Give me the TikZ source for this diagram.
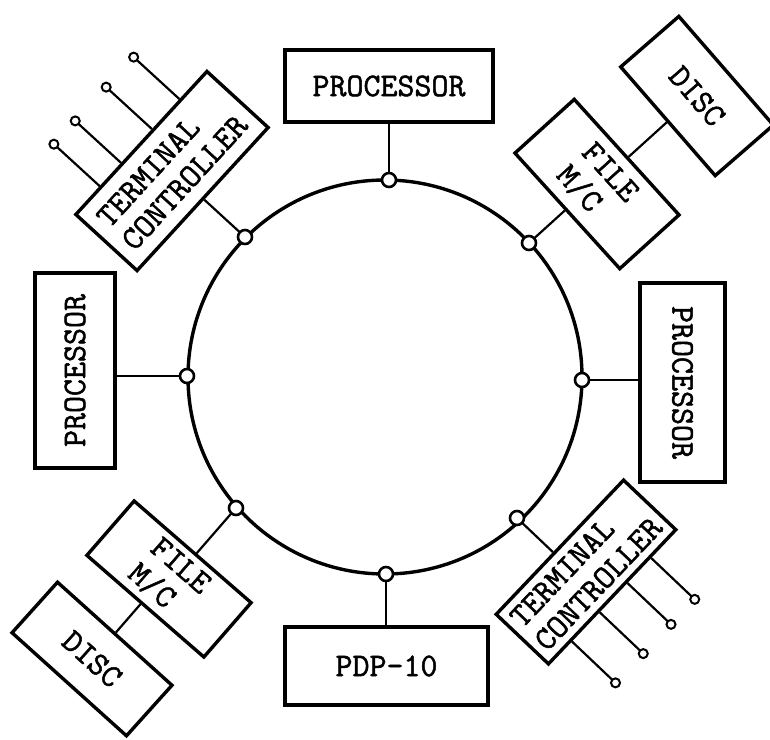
\documentclass[tikz,border=0pt]{standalone}
\usepackage{fontspec}
\newfontfamily\tw{Latin Modern Mono}[FakeBold=1.5]
\usetikzlibrary{calc}
\begin{document}
\begin{tikzpicture}[x=1pt,y=-1pt,
  box/.style={draw,line width=3.4pt,inner sep=0pt,font=\tw\fontsize{33}{34}\selectfont,align=center},
  tap/.style={circle,draw,line width=2.6pt,fill=white,minimum size=14pt,inner sep=0pt},
  link/.style={line width=2.2pt},
  term/.style={circle,draw,line width=2pt,fill=white,minimum size=9pt,inner sep=0pt},
  ringstyle/.style={circle,draw,line width=3.4pt,minimum size=394pt,inner sep=0pt}
]
\useasboundingbox (0,0) rectangle (770,739);
% ring
\node[ringstyle] (ring) at (385,377) {};
% boxes
\node[box,minimum width=208pt,minimum height=72pt] (pT) at (389,86) {PROCESSOR};
\node[box,minimum width=195pt,minimum height=80pt,rotate=90] (pL) at (75,370.5) {PROCESSOR};
\node[box,minimum width=199pt,minimum height=85pt,rotate=-90] (pR) at (682.5,382.5) {PROCESSOR};
\node[box,minimum width=203pt,minimum height=78pt] (pdp) at (386.5,666) {PDP-10};
\node[box,minimum width=194pt,minimum height=83pt,rotate=47.5,align=left] (tcUL) at (172,171) {TERMINAL\\CONTROLLER};
\node[box,minimum width=185pt,minimum height=72pt,rotate=46.5,align=left] (tcLR) at (586,572) {TERMINAL\\CONTROLLER};
\node[box,minimum width=156pt,minimum height=80pt,rotate=-47.8,align=left] (fileUR) at (597,184) {FILE\\M/C};
\node[box,minimum width=144pt,minimum height=77pt,rotate=-49] (discUR) at (697,96) {DISC};
\node[box,minimum width=155pt,minimum height=72pt,rotate=-41,align=left] (fileLL) at (169,579) {FILE\\M/C};
\node[box,minimum width=154pt,minimum height=68pt,rotate=-42] (discLL) at (92,659) {DISC};
% tap positions on the ring
\coordinate (cT) at (389,180);
\coordinate (cUR) at (529,243);
\coordinate (cR) at (582,380);
\coordinate (cLR) at (517,518);
\coordinate (cB) at (386,574);
\coordinate (cLL) at (236,508);
\coordinate (cL) at (187,376);
\coordinate (cUL) at (245,237);
% connectors
\draw[link] (cT) -- (cT |- pT.south);
\draw[link] (cB) -- (cB |- pdp.north);
\draw[link] (cL) -- (cL -| pL.south);
\draw[link] (cR) -- (cR -| pR.south);
\draw[link] (cUL) -- ($(tcUL.south west)!(cUL)!(tcUL.south east)$);
\draw[link] (cLR) -- ($(tcLR.north west)!(cLR)!(tcLR.north east)$);
\draw[link] (cUR) -- ($(fileUR.south west)!(cUR)!(fileUR.south east)$);
\draw[link] (cLL) -- ($(fileLL.north west)!(cLL)!(fileLL.north east)$);
\draw[link] (discUR.south) -- ($(fileUR.north west)!(discUR.south)!(fileUR.north east)$);
\draw[link] (discLL.north) -- ($(fileLL.south west)!(discLL.north)!(fileLL.south east)$);
% tap circles
\node[tap] (nT) at (cT) {};
\node[tap] (nUR) at (cUR) {};
\node[tap] (nR) at (cR) {};
\node[tap] (nLR) at (cLR) {};
\node[tap] (nB) at (cB) {};
\node[tap] (nLL) at (cLL) {};
\node[tap] (nL) at (cL) {};
\node[tap] (nUL) at (cUL) {};
% terminal lines, upper left controller
\coordinate (a1) at ($(tcUL.north west)!0.794!(tcUL.north east)$);
\coordinate (a2) at ($(tcUL.north west)!0.588!(tcUL.north east)$);
\coordinate (a3) at ($(tcUL.north west)!0.356!(tcUL.north east)$);
\coordinate (a4) at ($(tcUL.north west)!0.196!(tcUL.north east)$);
\draw[link] (a1) -- ($(a1)!62pt!90:(tcUL.north east)$) node[term] (ta1) {};
\draw[link] (a2) -- ($(a2)!62pt!90:(tcUL.north east)$) node[term] (ta2) {};
\draw[link] (a3) -- ($(a3)!62pt!90:(tcUL.north east)$) node[term] (ta3) {};
\draw[link] (a4) -- ($(a4)!62pt!90:(tcUL.north east)$) node[term] (ta4) {};
% terminal lines, lower right controller
\coordinate (b1) at ($(tcLR.south west)!0.792!(tcLR.south east)$);
\coordinate (b2) at ($(tcLR.south west)!0.609!(tcLR.south east)$);
\coordinate (b3) at ($(tcLR.south west)!0.395!(tcLR.south east)$);
\coordinate (b4) at ($(tcLR.south west)!0.181!(tcLR.south east)$);
\draw[link] (b1) -- ($(b1)!60pt!-90:(tcLR.south east)$) node[term] (tb1) {};
\draw[link] (b2) -- ($(b2)!60pt!-90:(tcLR.south east)$) node[term] (tb2) {};
\draw[link] (b3) -- ($(b3)!60pt!-90:(tcLR.south east)$) node[term] (tb3) {};
\draw[link] (b4) -- ($(b4)!60pt!-90:(tcLR.south east)$) node[term] (tb4) {};
\end{tikzpicture}
\end{document}
